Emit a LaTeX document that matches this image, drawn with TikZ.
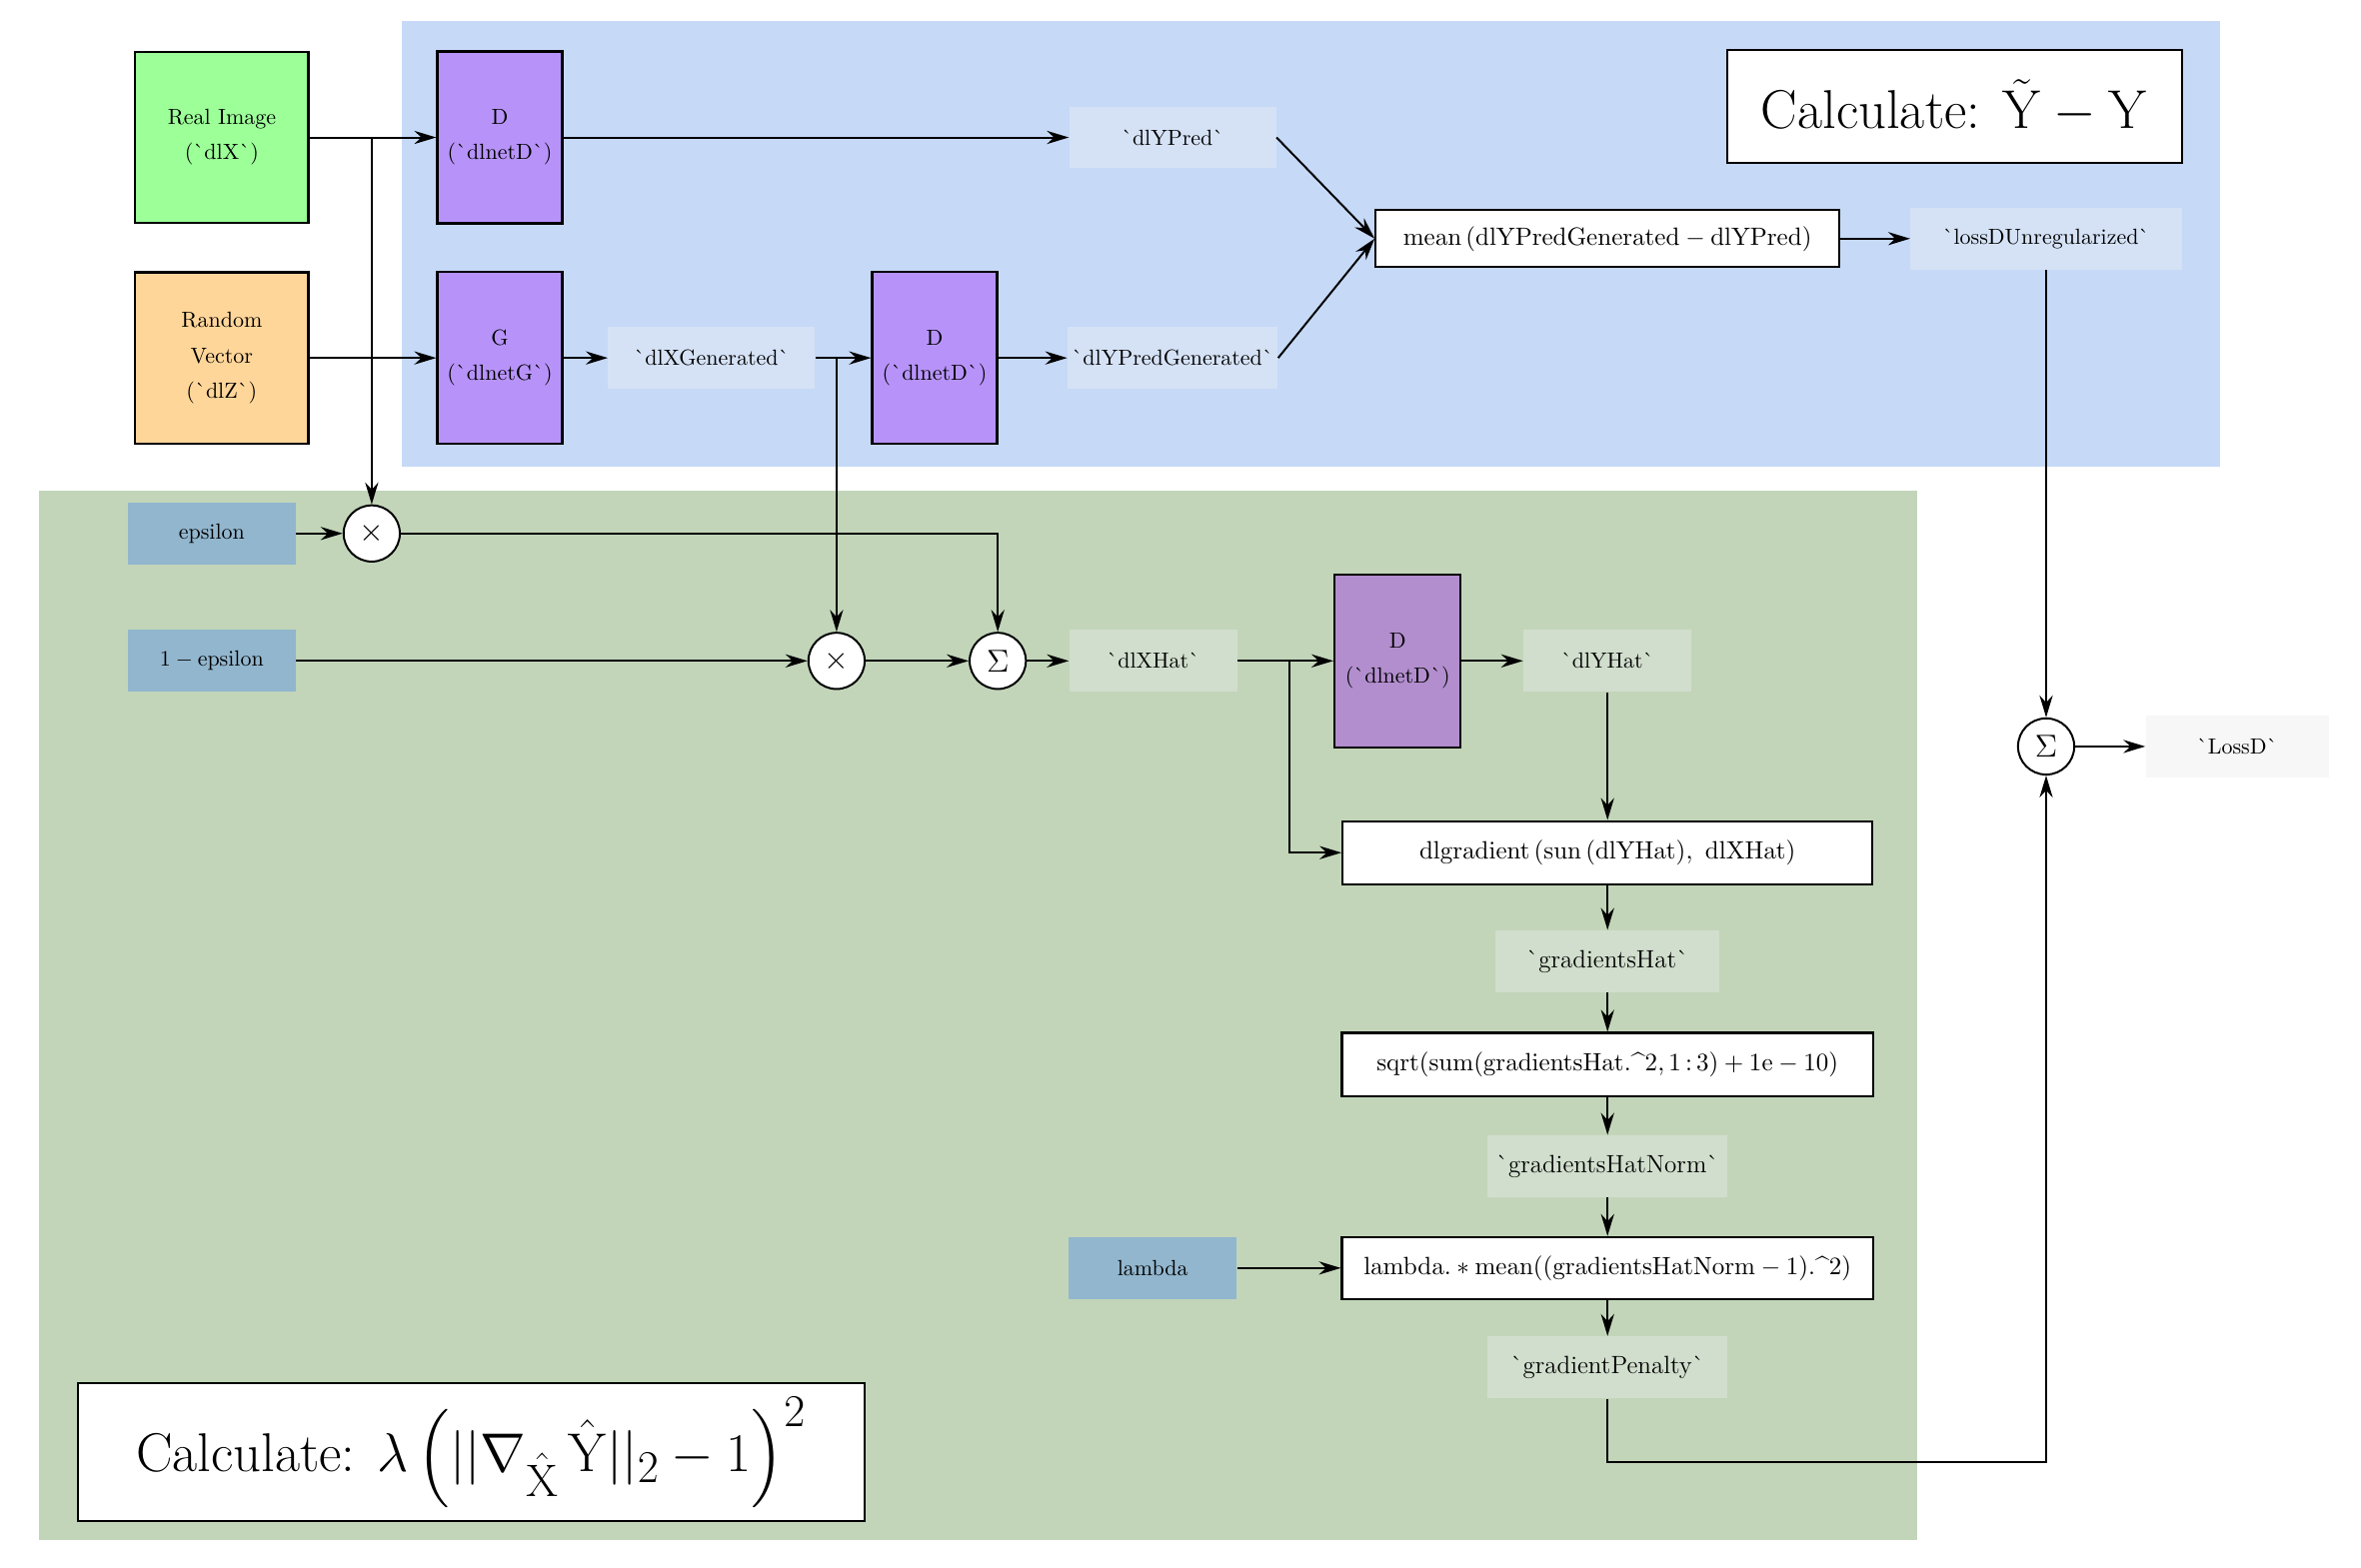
\RequirePackage{fix-cm}
\documentclass[tikz,border=0pt]{standalone}
\usepackage{amsmath,amssymb}
\usepackage{xcolor}
\usepackage{tikz}
\usetikzlibrary{calc,arrows.meta}
\definecolor{bgblue}{HTML}{C6D9F7}
\definecolor{varblue}{HTML}{D5E2F6}
\definecolor{bggreen}{HTML}{C2D5B9}
\definecolor{vargreen}{HTML}{D1DECD}
\definecolor{param}{HTML}{92B6CE}
\definecolor{real}{HTML}{9CFF98}
\definecolor{noise}{HTML}{FFD699}
\definecolor{net}{HTML}{B793F9}
\definecolor{netdim}{HTML}{B28ECE}
\definecolor{outgray}{HTML}{F7F7F7}
\newcommand{\bqt}{\`{}}
\newcommand{\crt}{\text{\^{}}}
\tikzset{
  base/.style={draw=black, line width=0.9pt},
  flow/.style={base, -{Stealth[length=10pt,width=6pt]}},
  blk/.style={draw=black, line width=1pt, fill=net, minimum width=2cm, minimum height=2.75cm, align=center},
  src/.style={draw=black, line width=1pt, minimum width=2.77cm, minimum height=2.74cm, align=center},
  var/.style={minimum height=0.99cm, inner sep=2pt},
  gvar/.style={var, fill=vargreen, font=\fontsize{11.4}{13.7}\selectfont},
  calc/.style={draw=black, line width=1pt, fill=white, minimum height=1.01cm, font=\fontsize{11.4}{13.7}\selectfont},
  op/.style={circle, draw=black, line width=0.9pt, fill=white, minimum size=0.9cm, inner sep=0pt, font=\Large},
  title/.style={draw=black, line width=1pt, fill=white, font=\Huge},
}
\begin{document}
\begin{tikzpicture}
  \useasboundingbox (0,0) rectangle (37.79,-25.10);
  \fill[bgblue] (6.43,-0.34) rectangle (35.54,-7.47);
  \fill[bggreen] (0.62,-7.86) rectangle (30.69,-24.66);

  \node[src, fill=real] (real) at (3.55,-2.20) {Real Image\\[4pt](\bqt dlX\bqt)};
  \node[src, fill=noise] (noise) at (3.55,-5.73) {Random\\[4pt]Vector\\[4pt](\bqt dlZ\bqt)};
  \node[blk] (d1) at (8.00,-2.20) {D\\[4pt](\bqt dlnetD\bqt)};
  \node[blk] (gen) at (8.00,-5.73) {G\\[4pt](\bqt dlnetG\bqt)};
  \node[var, fill=varblue, minimum width=3.31cm] (xgen) at (11.39,-5.73) {\bqt dlXGenerated\bqt};
  \node[blk] (d2) at (14.96,-5.73) {D\\[4pt](\bqt dlnetD\bqt)};
  \node[var, fill=varblue, minimum width=3.31cm] (ypred) at (18.77,-2.20) {\bqt dlYPred\bqt};
  \node[var, fill=varblue, minimum width=3.31cm] (ypredgen) at (18.77,-5.73) {\bqt dlYPredGenerated\bqt};
  \node[calc, minimum width=7.42cm, minimum height=0.91cm] (mean) at (25.73,-3.82) {$\mathrm{mean}\,(\mathrm{dlYPredGenerated}-\mathrm{dlYPred})$};
  \node[var, fill=varblue, minimum width=4.34cm] (lossu) at (32.75,-3.82) {\bqt lossDUnregularized\bqt};
  \node[title, minimum width=7.28cm, minimum height=1.81cm] (titleY) at (31.28,-1.70) {Calculate: $\tilde{\mathrm{Y}}-\mathrm{Y}$};

  \node[var, fill=param, minimum width=2.69cm] (eps) at (3.39,-8.54) {epsilon};
  \node[var, fill=param, minimum width=2.69cm] (oneeps) at (3.39,-10.58) {$1-\mathrm{epsilon}$};
  \node[op] (mul1) at (5.95,-8.54) {$\times$};
  \node[op] (mul2) at (13.39,-10.58) {$\times$};
  \node[op] (sum1) at (15.97,-10.58) {$\Sigma$};
  \node[var, fill=vargreen, minimum width=2.69cm] (xhat) at (18.46,-10.58) {\bqt dlXHat\bqt};
  \node[blk, fill=netdim, minimum width=2.02cm, minimum height=2.77cm] (d3) at (22.37,-10.58) {D\\[4pt](\bqt dlnetD\bqt)};
  \node[var, fill=vargreen, minimum width=2.69cm] (yhat) at (25.73,-10.58) {\bqt dlYHat\bqt};
  \node[calc, minimum width=8.48cm] (grad) at (25.73,-13.65) {$\mathrm{dlgradient}\,(\mathrm{sun}\,(\mathrm{dlYHat}),\ \mathrm{dlXHat})$};
  \node[gvar, minimum width=3.58cm] (ghat) at (25.73,-15.39) {\bqt gradientsHat\bqt};
  \node[calc, minimum width=8.50cm] (sqrt) at (25.73,-17.04) {$\mathrm{sqrt}(\mathrm{sum}(\mathrm{gradientsHat}.\crt2,1\,{:}\,3)+1\mathrm{e}-10)$};
  \node[gvar, minimum width=3.84cm] (gnorm) at (25.73,-18.67) {\bqt gradientsHatNorm\bqt};
  \node[var, fill=param, minimum width=2.69cm] (lam) at (18.45,-20.30) {lambda};
  \node[calc, minimum width=8.50cm, minimum height=0.99cm] (pen) at (25.73,-20.30) {$\mathrm{lambda}.*\mathrm{mean}((\mathrm{gradientsHatNorm}-1).\crt2)$};
  \node[gvar, minimum width=3.84cm] (gpen) at (25.73,-21.89) {\bqt gradientPenalty\bqt};
  \node[title, minimum width=12.59cm, minimum height=2.21cm] (titleL) at (7.54,-23.25) {Calculate: $\lambda\left(||\nabla_{\hat{\mathrm{X}}}\,\hat{\mathrm{Y}}||_2-1\right)^2$};

  \node[op] (sumD) at (32.75,-11.95) {$\Sigma$};
  \node[var, fill=outgray, minimum width=2.93cm] (lossD) at (35.81,-11.95) {\bqt LossD\bqt};

  \coordinate (splitX) at (5.95,-2.20);
  \coordinate (splitG) at (13.39,-5.73);
  \coordinate (splitH) at (20.64,-10.58);
  \coordinate (turn) at (25.73,-23.41);

  \draw[flow] (real) -- (d1);
  \draw[flow] (splitX) -- (mul1);
  \draw[flow] (noise) -- (gen);
  \draw[flow] (gen) -- (xgen);
  \draw[flow] (xgen) -- (d2);
  \draw[flow] (splitG) -- (mul2);
  \draw[flow] (d1) -- (ypred);
  \draw[flow] (d2) -- (ypredgen);
  \draw[flow] (ypred.east) -- (mean.west);
  \draw[flow] (ypredgen.east) -- (mean.west);
  \draw[flow] (mean) -- (lossu);
  \draw[flow] (lossu) -- (sumD);
  \draw[flow] (eps) -- (mul1);
  \draw[flow] (mul1) -| (sum1);
  \draw[flow] (oneeps) -- (mul2);
  \draw[flow] (mul2) -- (sum1);
  \draw[flow] (sum1) -- (xhat);
  \draw[flow] (xhat) -- (d3);
  \draw[flow] (splitH) |- (grad);
  \draw[flow] (d3) -- (yhat);
  \draw[flow] (yhat) -- (grad);
  \draw[flow] (grad) -- (ghat);
  \draw[flow] (ghat) -- (sqrt);
  \draw[flow] (sqrt) -- (gnorm);
  \draw[flow] (gnorm) -- (pen);
  \draw[flow] (lam) -- (pen);
  \draw[flow] (pen) -- (gpen);
  \draw[flow] (gpen) -- (turn) -| (sumD);
  \draw[flow] (sumD) -- (lossD);
\end{tikzpicture}
\end{document}
